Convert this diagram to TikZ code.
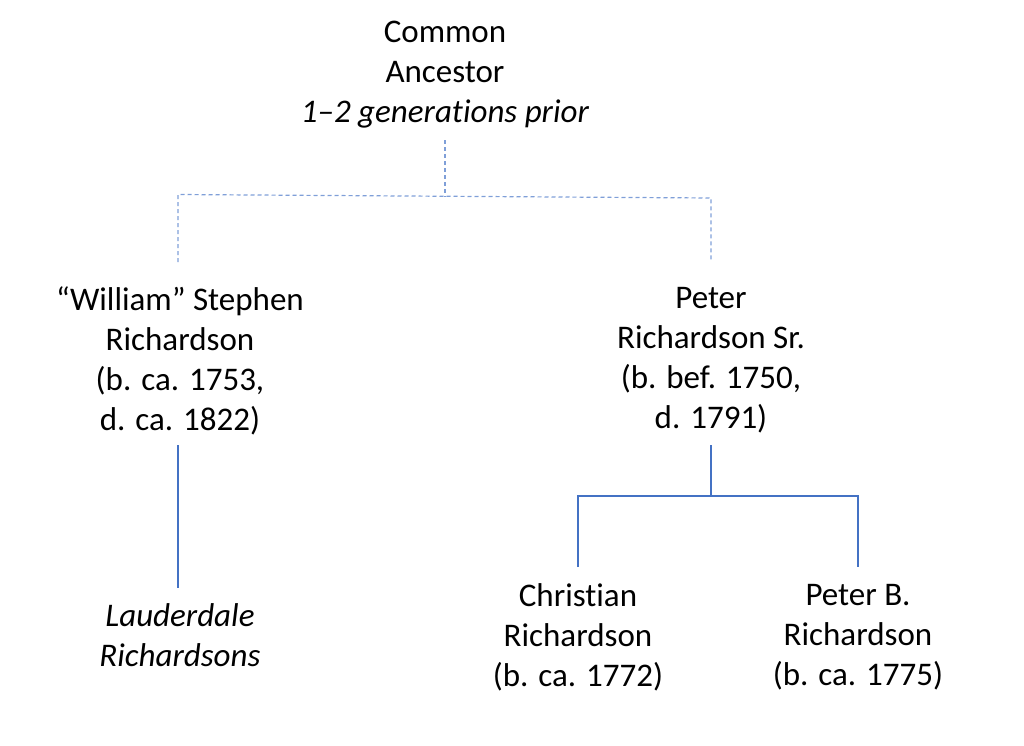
\documentclass[tikz,border=0pt]{standalone}
\usepackage{fontspec}
\setmainfont[Ligatures=NoCommon]{Carlito}
\usetikzlibrary{calc}
\definecolor{lineblue}{HTML}{4472C4}
\definecolor{dashblue}{HTML}{7F9FD8}
\begin{document}
\begin{tikzpicture}[x=1pt,y=-1pt,
  person/.style={align=center,inner sep=0pt,font=\fontsize{33}{40}\selectfont,text=black},
  solidlink/.style={draw=lineblue,line width=1.2pt},
  dashlink/.style={draw=dashblue,line width=1.2pt,dash pattern=on 4pt off 3pt}]
\useasboundingbox (0,0) rectangle (1024,745);
\node[person] (ca) at (445,75) {Common\\Ancestor\\\textit{1--2 generations prior}};
\node[person] (ws) at (180,360.5) {“William” Stephen\\Richardson\\(b. ca. 1753,\\d. ca. 1822)};
\node[person] (pr) at (711,360.5) {Peter\\Richardson Sr.\\(b. bef. 1750,\\d. 1791)};
\node[person] (lr) at (180,635) {\textit{Lauderdale}\\\textit{Richardsons}};
\node[person] (cr) at (578,637.5) {Christian\\Richardson\\(b. ca. 1772)};
\node[person] (pb) at (858,637.5) {Peter B.\\Richardson\\(b. ca. 1775)};
\coordinate (catop) at (445,140);
\coordinate (cajoin) at (445,196.3);
\coordinate (wsjoin) at (178,194.5);
\coordinate (prjoin) at (711,198);
\coordinate (wsend) at (178,262);
\coordinate (prend) at (711,262);
\draw[dashlink] (catop) -- (cajoin);
\draw[dashlink] (wsend) -- (wsjoin) -- (prjoin) -- (prend);
\coordinate (wsbot) at (178,445);
\coordinate (lrtop) at (178,588);
\draw[solidlink] (wsbot) -- (lrtop);
\coordinate (prbot) at (711,445);
\coordinate (prjoin2) at (711,496);
\coordinate (crjoin) at (578,496);
\coordinate (pbjoin) at (858,496);
\coordinate (crtop) at (578,567);
\coordinate (pbtop) at (858,567);
\draw[solidlink] (prbot) -- (prjoin2);
\draw[solidlink] (crtop) -- (crjoin) -- (pbjoin) -- (pbtop);
\end{tikzpicture}
\end{document}
